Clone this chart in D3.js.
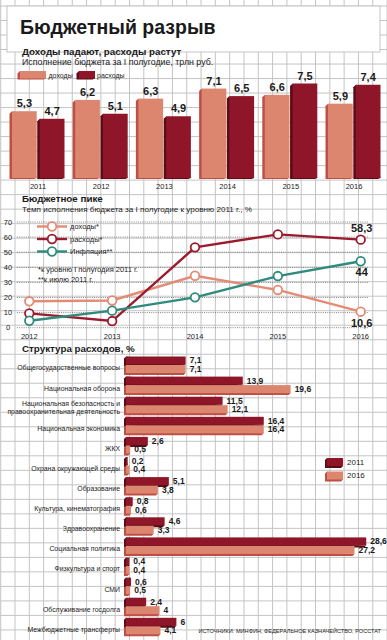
<!DOCTYPE html>
<html>
<head>
<meta charset="utf-8">
<script src="https://cdn.jsdelivr.net/npm/d3@7"></script>
<style>
  body { margin: 0; background: #fff; }
  svg { display: block; font-family: "Liberation Sans", Arial, sans-serif; }
</style>
</head>
<body>
<svg width="387" height="640"></svg>
<script>
// Доходы и расходы, трлн руб.
const years = ["2011", "2012", "2013", "2014", "2015", "2016"];
const revenue = [5.3, 6.2, 6.3, 7.1, 6.6, 5.9];
const spending = [4.7, 5.1, 4.9, 6.5, 7.5, 7.4];

// Темп к уровню 2011 г., %
const paceYears = ["2012", "2013", "2014", "2015", "2016"];
const paceRevenue = [17.5, 18, 34.4, 25, 10.6];
const paceSpending = [9.5, 4.4, 53.2, 61.8, 58.3];
const paceInflation = [4.6, 11.3, 20.1, 34.2, 44];
const paceTicks = [0, 10, 20, 30, 40, 50, 60, 70];

// Структура расходов, %
const sectors = [
    "Общегосударственные вопросы",
    "Национальная оборона",
    "Национальная безопасность и|правоохранительная деятельность",
    "Национальная экономика",
    "ЖКХ",
    "Охрана окружающей среды",
    "Образование",
    "Культура, кинематография",
    "Здравоохранение",
    "Социальная политика",
    "Физкультура и спорт",
    "СМИ",
    "Обслуживание госдолга",
    "Межбюджетные трансферты"
];
const share2011 = [7.1, 13.9, 11.5, 16.4, 2.6, 0.2, 5.1, 0.8, 4.6, 28.6, 0.4, 0.6, 2.4, 6];
const share2016 = [7.1, 19.6, 12.1, 16.4, 0.5, 0.4, 3.8, 0.6, 3.3, 27.2, 0.4, 0.5, 4, 4.1];

const light = "#dc8670", lightSide = "#bf4e45";
const dark = "#8e1628", darkSide = "#5a0c17";
const fmt = v => String(v).replace(".", ",");

const svg = d3.select("svg");

// background grid
const grid = svg.append("g").attr("stroke", "#c4c4c4").attr("stroke-width", 1);
d3.range(0, 28).forEach(k => {
    const x = 0.7 + k * 14.31;
    grid.append("line").attr("x1", x).attr("x2", x).attr("y1", 0).attr("y2", 640);
});
d3.range(-1, 45).forEach(k => {
    const y = 6 + k * 14.51;
    grid.append("line").attr("x1", 0).attr("x2", 387).attr("y1", y).attr("y2", y);
});

// title box
svg.append("rect").attr("x", 7).attr("y", 6).attr("width", 373).attr("height", 46)
    .attr("fill", "#fff").attr("stroke", "#c4c4c4");
svg.append("text").attr("x", 20).attr("y", 34)
    .style("font-size", "19.5px").style("font-weight", "bold").attr("fill", "#1a1a1a")
    .text("Бюджетный разрыв");

function heading(y, t) {
    svg.append("text").attr("x", 22).attr("y", y)
        .style("font-size", "9.8px").style("font-weight", "bold").attr("fill", "#1a1a1a").text(t);
}
function note(x, y, t, size) {
    return svg.append("text").attr("x", x).attr("y", y)
        .style("font-size", (size || 8) + "px").attr("fill", "#222").text(t);
}

// 3D bar helpers
function vbar(g, x0, x1, y0, y1, face, side) {
    const d = 2.5;
    g.append("path")
        .attr("d", `M${x0},${y0}L${x0 - d},${y0 + d}L${x0 - d},${y1 + 1}L${x1 - d},${y1 + 1}L${x1},${y1}Z`)
        .attr("fill", side);
    g.append("rect").attr("x", x0).attr("y", y0).attr("width", x1 - x0).attr("height", y1 - y0)
        .attr("fill", face);
}
function hbar(g, x0, x1, y0, y1, face, side) {
    const d = 2;
    g.append("path")
        .attr("d", `M${x0},${y0}L${x0 - d},${y0 + d}L${x0 - d},${y1 + d}L${x1 - d},${y1 + d}L${x1},${y1}Z`)
        .attr("fill", side);
    g.append("rect").attr("x", x0).attr("y", y0).attr("width", Math.max(0, x1 - x0)).attr("height", y1 - y0)
        .attr("fill", face);
}

// ---------- 1. Доходы падают, расходы растут ----------
heading(54.5, "Доходы падают, расходы растут");
note(22, 64.5, "Исполнение бюджета за I полугодие, трлн руб.", 8.8);

const legend1 = svg.append("g");
vbar(legend1, 20, 46, 71, 78.5, light, lightSide);
note(48.5, 78, "доходы", 7);
vbar(legend1, 79, 95, 71, 78.5, dark, darkSide);
note(97, 78, "расходы", 7);

const xYear = d3.scaleBand().domain(years).range([9.5, 380.5]).paddingInner(0.13);
const xPair = d3.scaleBand().domain(["rev", "spend"]).range([0, xYear.bandwidth()]).paddingInner(0.02);
const yTop = d3.scaleLinear().domain([0, 8]).range([178, 77.2]);

const bars1 = svg.append("g");
years.forEach((yr, i) => {
    [["rev", revenue[i], light, lightSide], ["spend", spending[i], dark, darkSide]].forEach(([k, v, c, s]) => {
        const x0 = xYear(yr) + xPair(k) + 2.5;
        const x1 = xYear(yr) + xPair(k) + xPair.bandwidth();
        vbar(bars1, x0, x1, yTop(v), yTop(0), c, s);
        bars1.append("text").attr("x", (x0 + x1) / 2).attr("y", yTop(v) - 4)
            .attr("text-anchor", "middle").style("font-size", "11px").style("font-weight", "bold")
            .attr("fill", "#1a1a1a").text(fmt(v));
    });
    bars1.append("text").attr("x", xYear(yr) + xYear.bandwidth() / 2 + 1).attr("y", 189)
        .attr("text-anchor", "middle").style("font-size", "7.5px").attr("fill", "#222").text(yr);
});

// ---------- 2. Бюджетное пике ----------
heading(202, "Бюджетное пике");
note(22, 212, "Темп исполнения бюджета за I полугодие к уровню 2011 г., %", 8.1);

const xPace = d3.scalePoint().domain(paceYears).range([29.3, 360.7]);
const yPace = d3.scaleLinear().domain([0, 70]).range([327.7, 222]);

const g2 = svg.append("g");
paceTicks.forEach(t => {
    g2.append("line").attr("x1", 17).attr("x2", 368).attr("y1", yPace(t)).attr("y2", yPace(t))
        .attr("stroke", "#666").attr("stroke-width", 0.8).attr("stroke-dasharray", "1,1.2");
    g2.append("text").attr("x", 8).attr("y", yPace(t)).attr("dy", "0.35em")
        .attr("text-anchor", "middle").style("font-size", "7.5px").attr("fill", "#222").text(t);
});
paceYears.forEach(yr => {
    g2.append("text").attr("x", xPace(yr)).attr("y", 339).attr("text-anchor", "middle")
        .style("font-size", "7.5px").attr("fill", "#222").text(yr);
});

const series = [
    { name: "доходы*", values: paceRevenue, color: "#e38b74" },
    { name: "расходы*", values: paceSpending, color: "#9c1a2d" },
    { name: "Инфляция**", values: paceInflation, color: "#2f8b7c" }
];
const line = d3.line().x((d, i) => xPace(paceYears[i])).y(d => yPace(d));

series.forEach((s, j) => {
    g2.append("path").attr("d", line(s.values)).attr("fill", "none")
        .attr("stroke", s.color).attr("stroke-width", 2.4);
    s.values.forEach((v, i) => {
        g2.append("circle").attr("cx", xPace(paceYears[i])).attr("cy", yPace(v)).attr("r", 4.3)
            .attr("fill", "#fff").attr("stroke", s.color).attr("stroke-width", 1.8);
    });
    // legend
    const ly = 226.5 + j * 12.5;
    g2.append("line").attr("x1", 37).attr("x2", 67).attr("y1", ly).attr("y2", ly)
        .attr("stroke", s.color).attr("stroke-width", 2.4);
    g2.append("circle").attr("cx", 52).attr("cy", ly).attr("r", 4.3)
        .attr("fill", "#fff").attr("stroke", s.color).attr("stroke-width", 1.8);
    g2.append("text").attr("x", 70).attr("y", ly).attr("dy", "0.35em")
        .style("font-size", "7.5px").attr("fill", "#222").text(s.name);
});

note(38, 272, "*к уровню I полугодия 2011 г.", 7.5);
note(38, 281.5, "**к июлю 2011 г.", 7.5);

const last = paceYears[paceYears.length - 1];
[[paceSpending, 231.5], [paceInflation, 275.5], [paceRevenue, 327]].forEach(([vals, y]) => {
    g2.append("text").attr("x", xPace(last) + 1).attr("y", y).attr("text-anchor", "middle")
        .style("font-size", "11px").style("font-weight", "bold").attr("fill", "#1a1a1a")
        .text(fmt(vals[vals.length - 1]));
});

// ---------- 3. Структура расходов ----------
heading(352, "Структура расходов, %");

const ySector = d3.scaleBand().domain(sectors).range([356.5, 635.5]).paddingInner(0.12);
const xShare = d3.scaleLinear().domain([0, 30]).range([126, 378]);
const barH = 8;

const g3 = svg.append("g");
sectors.forEach((sec, i) => {
    const top = ySector(sec);
    const rows = [[share2011[i], dark, darkSide, top], [share2016[i], light, lightSide, top + barH + 0.5]];
    rows.forEach(([v, c, s, y0]) => {
        hbar(g3, xShare(0), xShare(v), y0, y0 + barH, c, s);
        g3.append("text").attr("x", xShare(v) + 4).attr("y", y0 + barH / 2).attr("dy", "0.35em")
            .style("font-size", "8.5px").style("font-weight", "bold").attr("fill", "#1a1a1a").text(fmt(v));
    });
    const lines = sec.split("|");
    lines.forEach((t, k) => {
        const cy = lines.length === 1 ? top + 11.5 : top + 6.6 + k * 8.4;
        g3.append("text").attr("x", 120).attr("y", cy).attr("dy", "0.35em").attr("text-anchor", "end")
            .style("font-size", "6.9px").attr("fill", "#222").text(t);
    });
});

// legend 2011 / 2016
const legend3 = svg.append("g");
hbar(legend3, 327, 343, 458, 466, dark, darkSide);
note(347, 462, "2011", 8).attr("dy", "0.35em");
hbar(legend3, 327, 343, 471.5, 479.5, light, lightSide);
note(347, 475.5, "2016", 8).attr("dy", "0.35em");

svg.append("text").attr("x", 381).attr("y", 633).attr("text-anchor", "end")
    .style("font-size", "5.6px").attr("fill", "#222")
    .text("ИСТОЧНИКИ: МИНФИН, ФЕДЕРАЛЬНОЕ КАЗНАЧЕЙСТВО, РОССТАТ");
</script>
</body>
</html>
